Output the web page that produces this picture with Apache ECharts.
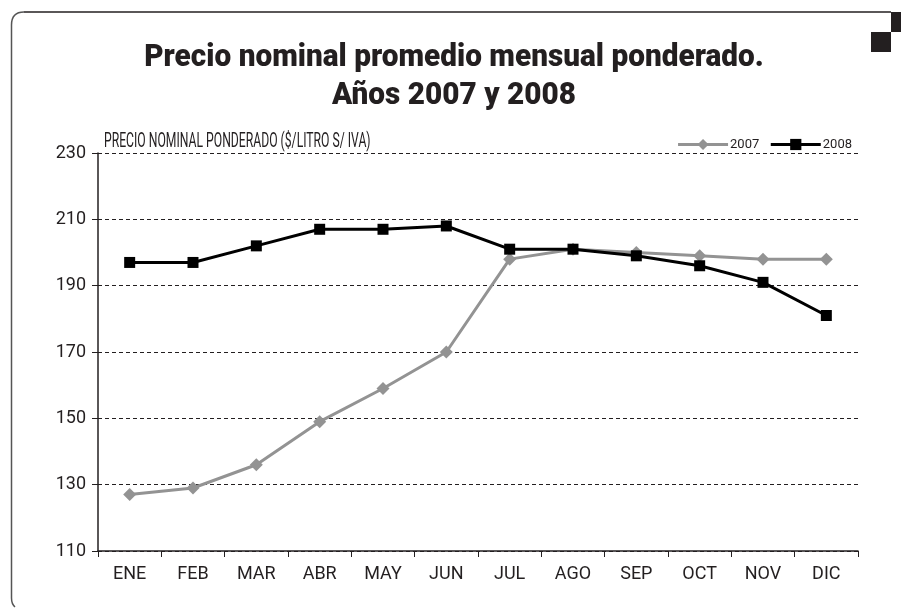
<!DOCTYPE html>
<html><head><meta charset="utf-8">
<script src="https://cdn.jsdelivr.net/npm/echarts@6/dist/echarts.min.js"></script>
<style>html,body{margin:0;padding:0;background:#fff}#c{width:901px;height:611px}</style>
</head><body><div id="c"></div>
<script>
const categories = ['ENE','FEB','MAR','ABR','MAY','JUN','JUL','AGO','SEP','OCT','NOV','DIC'];
const values2007 = [127,129,136,149,159,170,198,201,200,199,198,198];
const values2008 = [197,197,202,207,207,208,201,201,199,196,191,181];
const yTicks = [110,130,150,170,190,210,230];

const FONT = 'Roboto, "Liberation Sans", sans-serif';
const INK = '#231f20';
const chart = echarts.init(document.getElementById('c'));
chart.setOption({
  animation:false,
  legend:{
    right:44, top:133, itemGap:10, itemWidth:50, itemHeight:14,
    textStyle:{fontFamily:FONT, fontSize:13, color:INK, padding:[-8,0,0,-3]},
    lineStyle:{width:3},
    data:['2007','2008']
  },
  grid:{left:98, right:43, top:153, bottom:60},
  xAxis:{
    type:'category', data:categories, boundaryGap:true,
    axisLine:{lineStyle:{color:INK, width:1.5}},
    axisTick:{show:true, length:6, inside:false, lineStyle:{color:INK}},
    axisLabel:{fontFamily:FONT, fontSize:18, color:INK, margin:14}
  },
  yAxis:{
    type:'value', min:yTicks[0], max:yTicks[yTicks.length-1], interval:20,
    axisLine:{show:true, lineStyle:{color:INK, width:1.5}},
    axisTick:{show:true, length:6, lineStyle:{color:INK}},
    axisLabel:{fontFamily:FONT, fontSize:18, color:INK, margin:12},
    splitLine:{show:true, lineStyle:{color:INK, type:[4,3], width:1}}
  },
  series:[
    {name:'2007', type:'line', data:values2007, symbol:'diamond', symbolSize:13,
     itemStyle:{color:'#939393'}, lineStyle:{color:'#939393', width:3}, z:2},
    {name:'2008', type:'line', data:values2008, symbol:'rect', symbolSize:11,
     itemStyle:{color:'#000'}, lineStyle:{color:'#000', width:3}, z:3}
  ],
  graphic:[
    {type:'text', silent:true, x:454, y:58, scaleX:0.93,
     style:{text:'Precio nominal promedio mensual ponderado.', fontFamily:FONT, fontWeight:900, fontSize:32, fill:INK, textAlign:'center', textVerticalAlign:'middle'}},
    {type:'text', silent:true, x:454, y:96, scaleX:0.93,
     style:{text:'Años 2007 y 2008', fontFamily:FONT, fontWeight:900, fontSize:32, fill:INK, textAlign:'center', textVerticalAlign:'middle'}},
    {type:'text', silent:true, x:104, y:142, scaleX:0.58,
     style:{text:'PRECIO NOMINAL PONDERADO ($/LITRO S/ IVA)', fontFamily:FONT, fontSize:21, fill:INK, textAlign:'left', textVerticalAlign:'middle'}},
    {type:'line', silent:true, shape:{x1:24,y1:12,x2:891,y2:12}, style:{stroke:INK, lineWidth:1.5}},
    {type:'bezierCurve', silent:true, shape:{x1:24,y1:12,x2:11.5,y2:25,cpx1:11.5,cpy1:12}, style:{stroke:'#555', lineWidth:1.5, fill:null}},
    {type:'line', silent:true, shape:{x1:11.5,y1:25,x2:11.5,y2:598}, style:{stroke:'#555', lineWidth:1.5}},
    {type:'bezierCurve', silent:true, shape:{x1:11.5,y1:598,x2:15,y2:607,cpx1:11.5,cpy1:604}, style:{stroke:'#555', lineWidth:1.5, fill:null}},
    {type:'rect', silent:true, shape:{x:891,y:12,width:10,height:20}, style:{fill:INK}},
    {type:'rect', silent:true, shape:{x:871,y:32,width:20,height:20}, style:{fill:INK}}
  ]
});
</script></body></html>
